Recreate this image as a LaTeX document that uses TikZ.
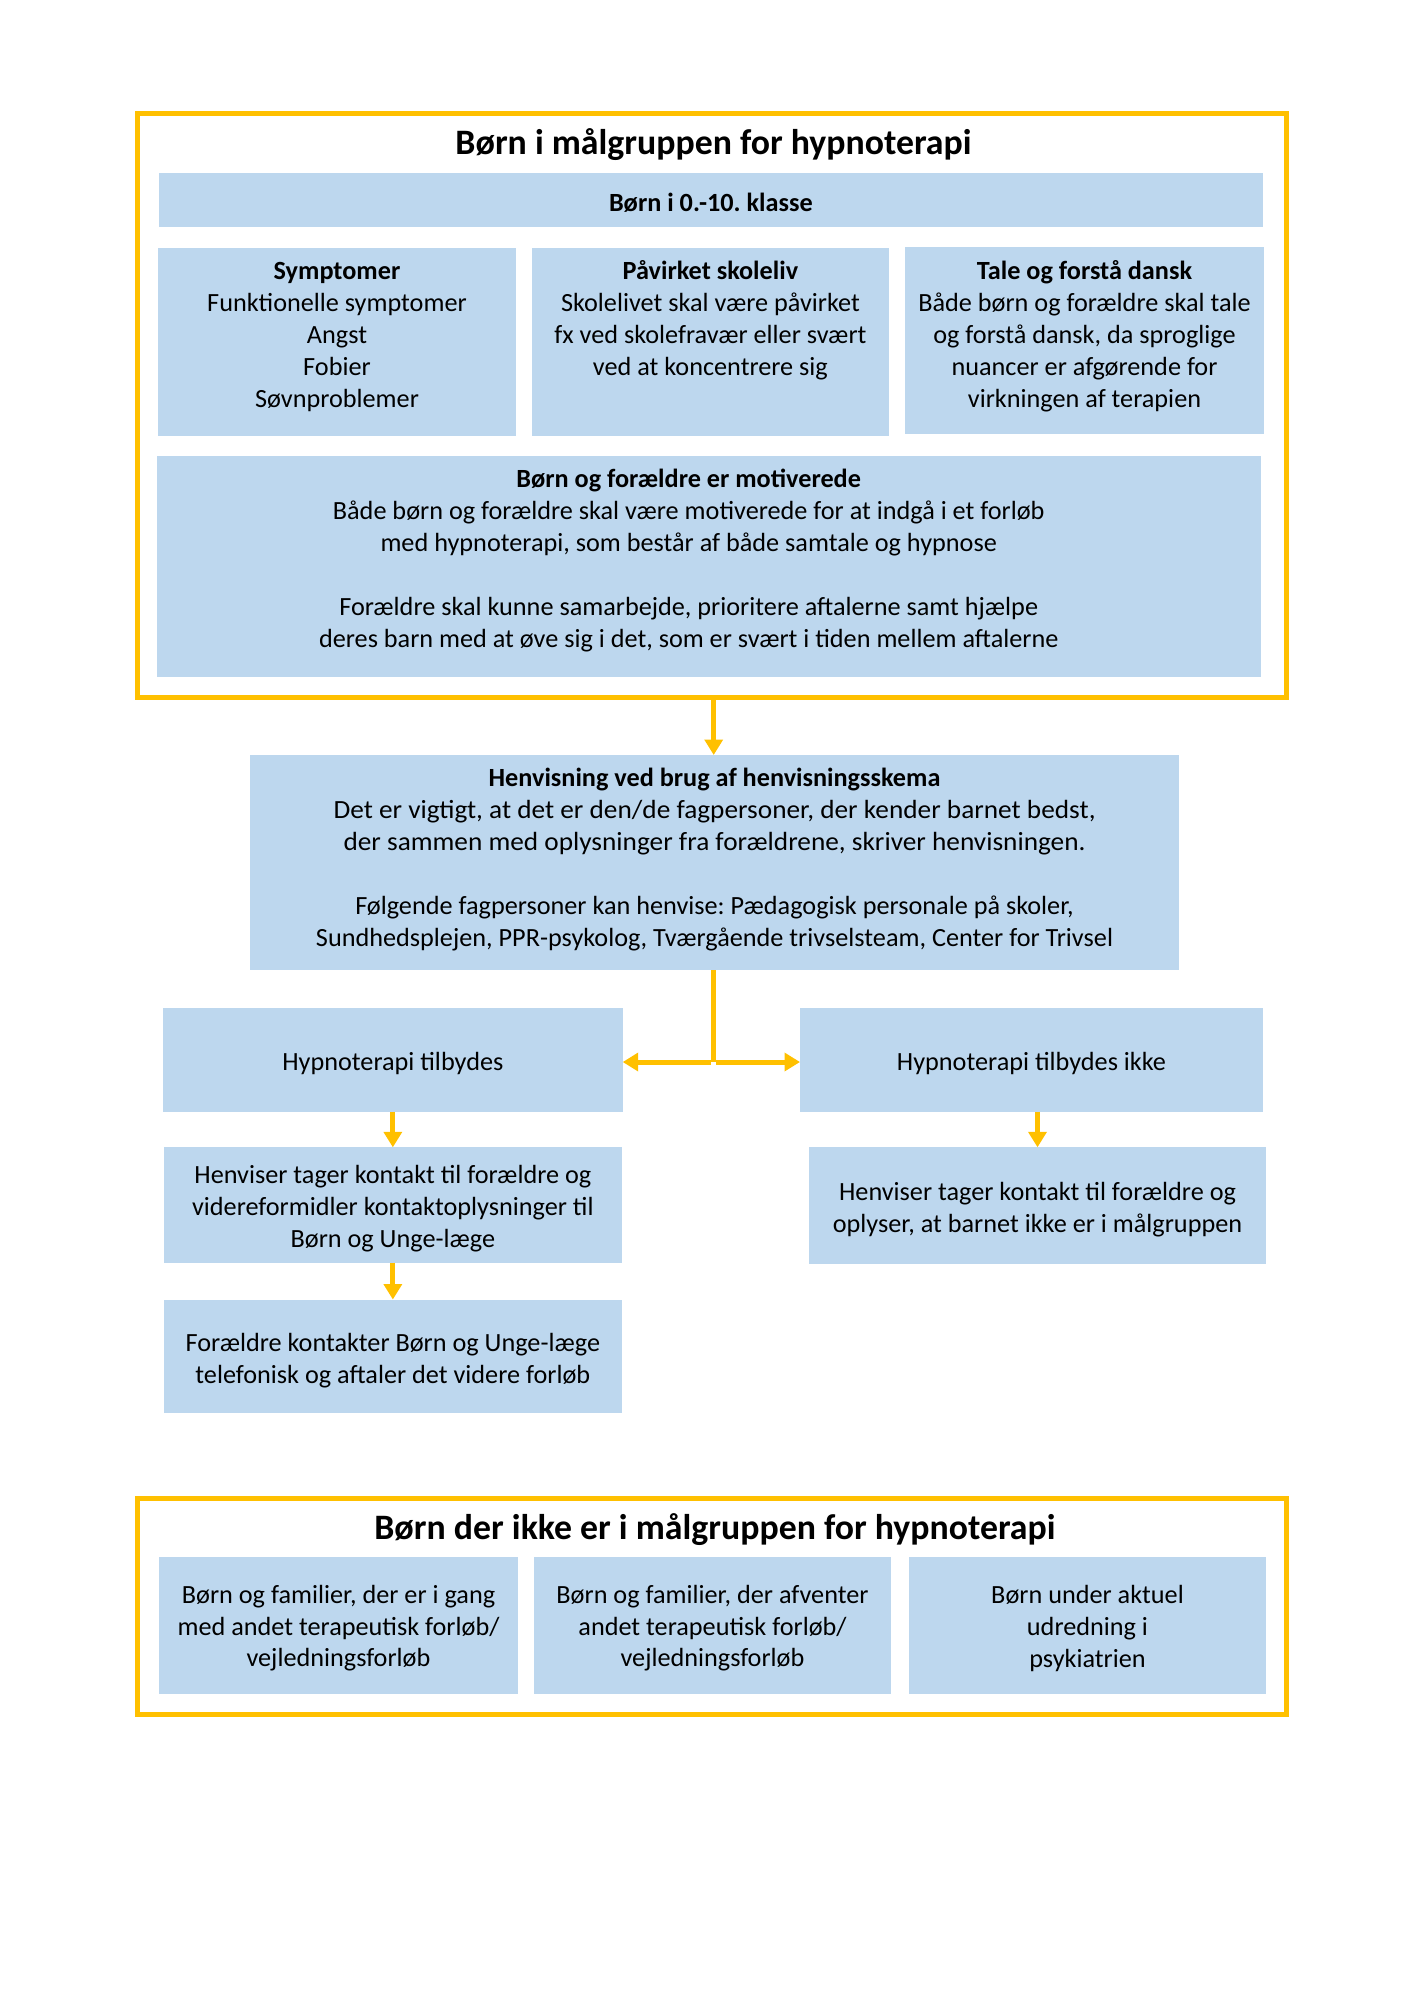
\documentclass[tikz,border=0pt]{standalone}
\usepackage{fontspec}
\setmainfont{Carlito}
\newfontfamily\widefnt{Carlito}[FakeStretch=1.04]
\usetikzlibrary{arrows.meta,fit}
\definecolor{boxblue}{HTML}{BDD7EE}
\definecolor{gold}{HTML}{FFC000}
\newcommand{\bodyfnt}{\fontsize{11}{13.4}\selectfont}
\newcommand{\titlefnt}{\fontsize{15}{18}\selectfont\bfseries}
\begin{document}
\frenchspacing
\begin{tikzpicture}[x=0.41923pt,y=-0.41923pt,
  bx/.style={fill=boxblue,inner sep=0pt,outer sep=0pt},
  frm/.style={draw=gold,line width=2.1pt,inner sep=0pt,outer sep=0pt},
  txt/.style={inner sep=0pt,align=center,font=\bodyfnt,anchor=north},
  ctxt/.style={inner sep=0pt,align=center,font=\bodyfnt,anchor=center,yshift=-1.7pt},
  ctxtb/.style={ctxt,yshift=0.6pt},
  ttl/.style={inner sep=0pt,anchor=base,font=\titlefnt},
  ln/.style={draw=gold,line width=2.1pt},
  arr/.style={draw=gold,line width=2.1pt,-{Triangle[width=7.5pt,length=6.5pt]}}]
\useasboundingbox (0,0) rectangle (1420,2009);

% ---------- top frame ----------
\node[frm, fit={(137.5,113) (1286.5,697.5)}] (frame1) {};
\node[ttl] (title1) at (713.5,154) {Børn i målgruppen for hypnoterapi};

\node[bx, fit={(159,172.7) (1262.7,227.3)}] (klasse) {};
\node[ctxtb, font=\bodyfnt\bfseries] (klassetxt) at (klasse.center) {Børn i 0.-10. klasse};

\node[bx, fit={(158.3,247.5) (515.7,435.7)}] (sym) {};
\node[bx, fit={(531.7,247.5) (889,435.7)}] (pav) {};
\node[bx, fit={(905,247.3) (1264,434.3)}] (tale) {};
\node[txt] (symtxt) at (337,256.6) {\strut\textbf{Symptomer}\\Funktionelle symptomer\\Angst\\Fobier\\Søvnproblemer};
\node[txt] (pavtxt) at (710.4,256.6) {\strut\textbf{Påvirket skoleliv}\\Skolelivet skal være påvirket\\fx ved skolefravær eller svært\\ved at koncentrere sig};
\node[txt] (taletxt) at (1084.5,256.4) {\strut\textbf{Tale og forstå dansk}\\Både børn og forældre skal tale\\og forstå dansk, da sproglige\\nuancer er afgørende for\\virkningen af terapien};

\node[bx, fit={(157,456) (1260.7,676.7)}] (mot) {};
\node[txt] (mottxt) at (688.7,465.1) {\strut\textbf{Børn og forældre er motiverede}\\Både børn og forældre skal være motiverede for at indgå i et forløb\\med hypnoterapi, som består af både samtale og hypnose\\[13.4pt]Forældre skal kunne samarbejde, prioritere aftalerne samt hjælpe\\deres barn med at øve sig i det, som er svært i tiden mellem aftalerne};

% ---------- referral ----------
\node[bx, fit={(250,755) (1179,970)}] (henv) {};
\node[txt] (henvtxt) at (714.5,764.1) {\strut\textbf{Henvisning ved brug af henvisningsskema}\\{\widefnt Det er vigtigt, at det er den/de fagpersoner, der kender barnet bedst,}\\{\widefnt der sammen med oplysninger fra forældrene, skriver henvisningen.}\\[13.4pt]Følgende fagpersoner kan henvise: Pædagogisk personale på skoler,\\Sundhedsplejen, PPR-psykolog, Tværgående trivselsteam, Center for Trivsel};

\node[bx, fit={(163,1008.3) (622.7,1111.5)}] (hyp1) {};
\node[ctxt] (hyp1txt) at (hyp1.center) {Hypnoterapi tilbydes};
\node[bx, fit={(800,1008.3) (1263,1111.5)}] (hyp2) {};
\node[ctxt] (hyp2txt) at (hyp2.center) {Hypnoterapi tilbydes ikke};

\node[bx, fit={(163.7,1147.3) (622,1262.5)}] (hen1) {};
\node[ctxt] (hen1txt) at (hen1.center) {Henviser tager kontakt til forældre og\\videreformidler kontaktoplysninger til\\Børn og Unge-læge};
\node[bx, fit={(163.7,1299.5) (622,1413)}] (forl) {};
\node[ctxt] (forltxt) at (forl.center) {Forældre kontakter Børn og Unge-læge\\telefonisk og aftaler det videre forløb};
\node[bx, fit={(809,1147.3) (1266,1263.7)}] (hen2) {};
\node[ctxt] (hen2txt) at (hen2.center) {Henviser tager kontakt til forældre og\\oplyser, at barnet ikke er i målgruppen};

% ---------- bottom frame ----------
\node[frm, fit={(137.5,1498) (1286.5,1714.5)}] (frame2) {};
\node[ttl] (title2) at (715,1539.3) {Børn der ikke er i målgruppen for hypnoterapi};
\node[bx, fit={(159.3,1556.7) (517.7,1694.3)}] (b1) {};
\node[ctxtb] (b1txt) at (b1.center) {Børn og familier, der er i gang\\med andet terapeutisk forløb/\\vejledningsforløb};
\node[bx, fit={(534,1556.7) (891,1694.3)}] (b2) {};
\node[ctxtb] (b2txt) at (b2.center) {Børn og familier, der afventer\\andet terapeutisk forløb/\\vejledningsforløb};
\node[bx, fit={(909,1556.7) (1266,1694.3)}] (b3) {};
\node[ctxtb] (b3txt) at (b3.center) {Børn under aktuel\\udredning i\\psykiatrien};

% ---------- connectors ----------
\coordinate (j) at (713.7,1062);
\draw[arr] (frame1.south -| j) -- (henv.north -| j);
\draw[ln] (henv.south -| j) -- (j);
\draw[arr] ([xshift=-1.05pt]j) -- (hyp1.east |- j);
\draw[arr] ([xshift=1.05pt]j) -- (hyp2.west |- j);
\draw[arr] (hyp1.south -| hen1.north) -- (hen1.north);
\draw[arr] (hen1.south) -- (forl.north);
\draw[arr] (hyp2.south -| hen2.north) -- (hen2.north);
\end{tikzpicture}
\end{document}
